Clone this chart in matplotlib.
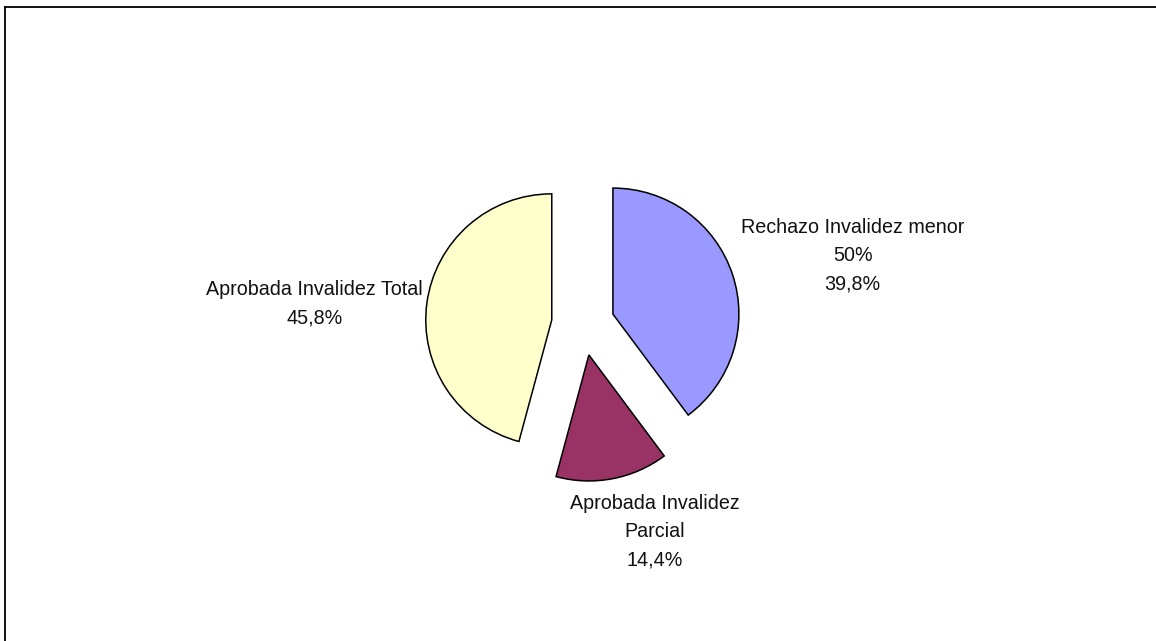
import matplotlib
matplotlib.use("Agg")
import matplotlib.pyplot as plt
from matplotlib.lines import Line2D

# data
labels = ["Rechazo Invalidez menor\n50%", "Aprobada Invalidez\nParcial", "Aprobada Invalidez Total"]
values = [39.8, 14.4, 45.8]
pct_text = ["39,8%", "14,4%", "45,8%"]
colors = ["#9999FF", "#993366", "#FFFFCC"]

# label centres, in pie-radius units
label_pos = [(2.14, 0.54), (0.57, -1.65), (-2.13, 0.16)]

plt.rcParams["font.family"] = ["Liberation Sans", "DejaVu Sans"]

fig = plt.figure(figsize=(11.56, 6.41), dpi=100)
ax = fig.add_axes([0, 0, 1, 1])

wedges, _ = ax.pie(values, colors=colors, startangle=90, counterclock=False,
                   explode=[0.25] * len(values),
                   wedgeprops=dict(edgecolor="black", linewidth=1.1))

for i in range(len(values)):
    x, y = label_pos[i]
    ax.text(x, y, labels[i] + "\n" + pct_text[i], ha="center", va="center",
            fontsize=14.2, linespacing=1.62, color="#111111")

# centre at (583, 324) px, radius 126 px
r = 126.0
ax.set_xlim(-583 / r, (1156 - 583) / r)
ax.set_ylim(-(641 - 324) / r, 324 / r)
ax.set_aspect("auto")
ax.axis("off")

# chart frame (only left and top visible)
fig.add_artist(Line2D([4.5 / 1156, 4.5 / 1156], [0, 1 - 6.5 / 641],
                      transform=fig.transFigure, color="black", lw=1.3))
fig.add_artist(Line2D([4.5 / 1156, 1], [1 - 6.5 / 641, 1 - 6.5 / 641],
                      transform=fig.transFigure, color="black", lw=1.3))

fig.savefig("out.png", dpi=100, facecolor="white")
